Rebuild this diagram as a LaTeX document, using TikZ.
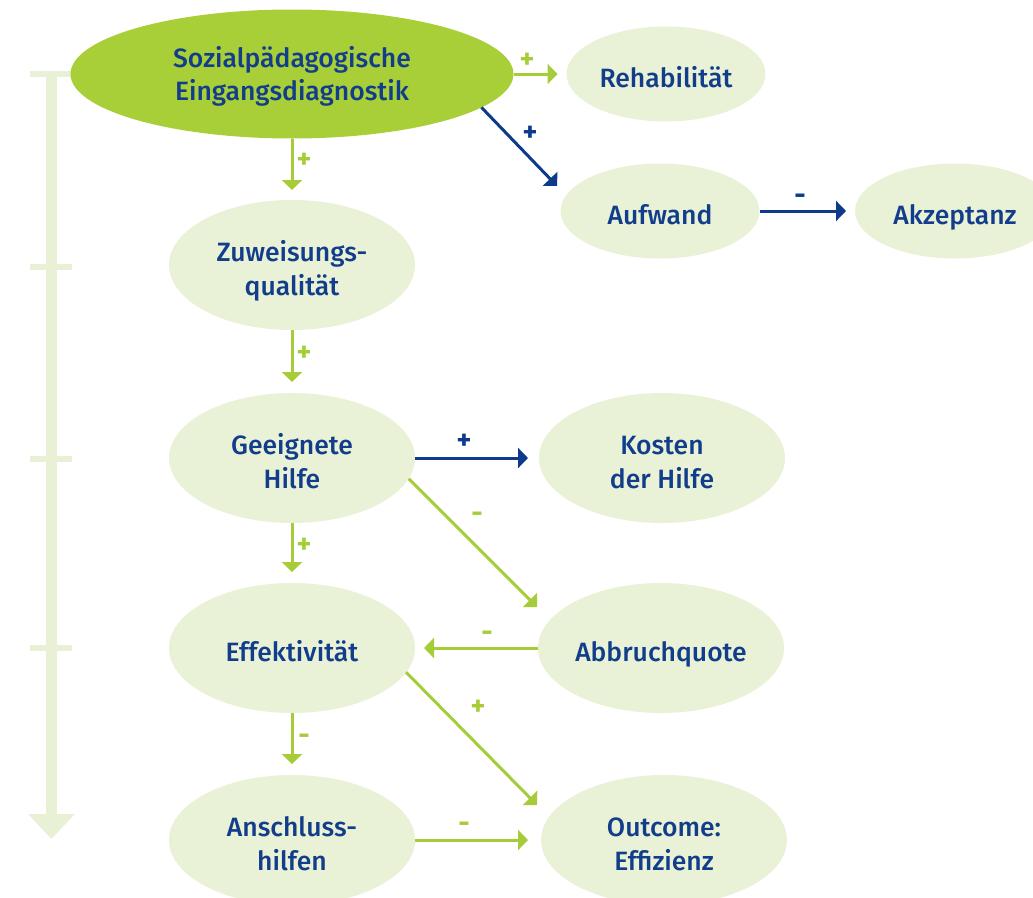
\documentclass[tikz,border=0pt]{standalone}
\usepackage{fontspec}
\setmainfont{Fira Sans Medium}
\newfontfamily\signfont{Fira Sans}
\usetikzlibrary{shapes.geometric,arrows.meta}
\definecolor{navy}{HTML}{123D8B}
\definecolor{arrowblue}{HTML}{0D3A8A}
\definecolor{leaf}{HTML}{A6CD39}
\definecolor{topgreen}{HTML}{A9CF38}
\definecolor{palegreen}{HTML}{E9F2D6}
\definecolor{barcol}{HTML}{E8F1D5}
\tikzset{
  bubble/.style={ellipse, fill=palegreen, text=navy, inner sep=0pt, outer sep=0pt,
    minimum width=246pt, minimum height=130pt, align=center,
    text height=60pt, text depth=0pt,
    font=\fontsize{26.5}{34}\selectfont},
  oneline/.style={text height=27pt, text depth=0pt},
  smallbubble/.style={bubble, oneline, minimum width=199pt, minimum height=95pt},
  garrow/.style={draw=leaf, line width=3pt, -{Triangle[length=10pt,width=20pt]}},
  barrow/.style={garrow, draw=arrowblue},
  glbl/.style={text=leaf, inner sep=0pt, font=\signfont\bfseries\fontsize{28}{28}\selectfont},
  blbl/.style={glbl, text=arrowblue},
}
\begin{document}
\begin{tikzpicture}[x=1pt,y=-1pt]
\useasboundingbox (0,0) rectangle (1033,897);

% time axis on the left
\fill[barcol] (46,74) rectangle (57,814);
\fill[barcol] (30,71) rectangle (110,77);
\foreach \yy in {267,459,648}
  \fill[barcol] (30,\yy-3) rectangle (72,\yy+3);
\fill[barcol] (28,814) -- (75,814) -- (51.5,839) -- cycle;

% nodes
\node[bubble, fill=topgreen, minimum width=443pt, minimum height=129pt,
      font=\fontsize{26.5}{33}\selectfont, text height=52pt] (soz) at (292,74)
      {Sozialpädagogische\\Eingangsdiagnostik};
\node[smallbubble] (reha) at (666,74) {Rehabilität};
\node[smallbubble] (aufw) at (660,211) {Aufwand};
\node[smallbubble, minimum width=200pt] (akz) at (955,211) {Akzeptanz};
\node[bubble] (zuw) at (292,265) {Zuweisungs-\\qualität};
\node[bubble] (geeig) at (292,458) {Geeignete\\Hilfe};
\node[bubble] (kost) at (662,458) {Kosten\\der Hilfe};
\node[bubble, oneline] (eff) at (292,648) {Effektivität};
\node[bubble, oneline] (abbr) at (661,648) {Abbruchquote};
\node[bubble] (ansch) at (292,840) {Anschluss-\\hilfen};
\node[bubble] (outc) at (664,840) {Outcome:\\Effizienz};

% free ends of the diagonal connectors
\coordinate (tipaufw) at (557,186);
\coordinate (tipabbr) at (537,607);
\coordinate (tipoutc) at (537,805);

% connectors
\draw[garrow, shorten >=9pt] (soz) -- (reha);
\draw[garrow, shorten >=10pt] (soz) -- (zuw);
\draw[barrow] (soz.-10) -- (tipaufw);
\draw[barrow, shorten >=9pt] (aufw) -- (akz);
\draw[garrow, shorten >=11pt] (zuw) -- (geeig);
\draw[barrow, shorten >=11pt] (geeig) -- (kost);
\draw[garrow, shorten >=11pt] (geeig) -- (eff);
\draw[garrow] (geeig.-10) -- (tipabbr);
\draw[garrow, shorten >=9pt] (abbr) -- (eff);
\draw[garrow, shorten >=11pt] (eff) -- (ansch);
\draw[garrow] (eff.-12) -- (tipoutc);
\draw[garrow, shorten >=13pt] (ansch) -- (outc);

% signs
\node[glbl] (s1) at (527,61) {+};
\node[glbl] (s2) at (304,161) {+};
\node[blbl] (s3) at (530,134) {+};
\node[blbl] (s4) at (800,199) {-};
\node[glbl] (s5) at (304,354) {+};
\node[blbl] (s6) at (464,442) {+};
\node[glbl] (s7) at (304,546) {+};
\node[glbl] (s8) at (477,517) {-};
\node[glbl] (s9) at (487,636) {-};
\node[glbl] (s10) at (304,739) {-};
\node[glbl] (s11) at (478,708) {+};
\node[glbl] (s12) at (464,827) {-};
\end{tikzpicture}
\end{document}
